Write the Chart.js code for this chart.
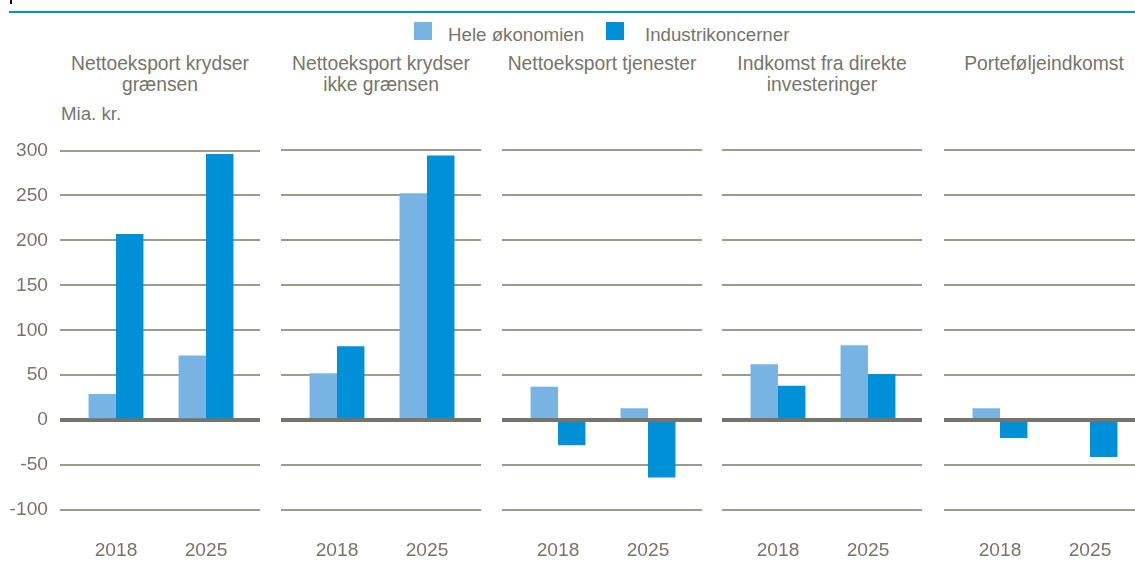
<!DOCTYPE html>
<html>
<head>
<meta charset="utf-8">
<script src="https://cdn.jsdelivr.net/npm/chart.js@4.4.1/dist/chart.umd.min.js"></script>
<style>
  body { margin: 0; width: 1135px; height: 568px; overflow: hidden; background: #fff; position: relative;
         font-family: 'Liberation Sans', Arial, sans-serif; color: #76756a; }
  .abs { position: absolute; }
  canvas { position: absolute; }
  .title { position: absolute; width: 200px; text-align: center; font-size: 19.3px; line-height: 21px; }
  .lbl { position: absolute; font-size: 18.7px; line-height: 21px; white-space: nowrap; }
  .sq { position: absolute; width: 18px; height: 18px; }
</style>
</head>
<body>
<div class="abs" style="left:10px;top:0;width:2px;height:4px;background:#111;"></div>
<div class="abs" style="left:9px;top:11px;width:1126px;height:2px;background:#0090d7;"></div>

<div id="legend"></div>
<div id="titles"></div>
<div class="lbl" style="left:61px;top:103px;">Mia. kr.</div>

<canvas id="p0" width="260" height="441" style="left:0;top:127px;"></canvas>
<canvas id="p1" width="200" height="438" style="left:281px;top:130px;"></canvas>
<canvas id="p2" width="200" height="438" style="left:502px;top:130px;"></canvas>
<canvas id="p3" width="200" height="438" style="left:722px;top:130px;"></canvas>
<canvas id="p4" width="200" height="438" style="left:944px;top:130px;"></canvas>

<script>
// Data (Mia. kr.)
const years = ['2018', '2025'];
const seriesNames = ['Hele økonomien', 'Industrikoncerner'];
const panelTitles = [
  ['Nettoeksport krydser', 'grænsen'],
  ['Nettoeksport krydser', 'ikke grænsen'],
  ['Nettoeksport tjenester'],
  ['Indkomst fra direkte', 'investeringer'],
  ['Porteføljeindkomst']
];
// one [2018, 2025] pair per panel
const heleOkonomien = [[29, 72], [52, 252], [37, 13], [62, 83], [13, 0]];
const industrikoncerner = [[207, 296], [82, 294], [-28, -64], [38, 51], [-20, -41]];
const yMin = -100, yMax = 300, yStep = 50;

const colors = ['#78b4e3', '#0090d7'];
const textColor = '#76756a';
const font = { family: "'Liberation Sans', Arial, sans-serif", size: 19.2 };

// legend + panel titles as plain text
const legend = document.getElementById('legend');
legend.innerHTML =
  '<div class="sq" style="left:414px;top:22px;background:' + colors[0] + '"></div>' +
  '<div class="lbl" style="left:448px;top:24px;">' + seriesNames[0] + '</div>' +
  '<div class="sq" style="left:606px;top:22px;background:' + colors[1] + '"></div>' +
  '<div class="lbl" style="left:645px;top:24px;">' + seriesNames[1] + '</div>';

const panelLefts = [60, 281, 502, 722, 944];
const titles = document.getElementById('titles');
panelTitles.forEach((t, i) => {
  const d = document.createElement('div');
  d.className = 'title';
  d.style.left = panelLefts[i] + 'px';
  d.style.top = '53px';
  d.innerHTML = t.join('<br>');
  titles.appendChild(d);
});

function makePanel(idx) {
  const showY = idx === 0;
  const toPoints = arr => arr.map((v, j) => ({ x: j, y: v }));
  new Chart(document.getElementById('p' + idx), {
    type: 'bar',
    data: {
      datasets: [
        { label: seriesNames[0], data: toPoints(heleOkonomien[idx]), backgroundColor: colors[0] },
        { label: seriesNames[1], data: toPoints(industrikoncerner[idx]), backgroundColor: colors[1] }
      ]
    },
    options: {
      responsive: false,
      devicePixelRatio: 1,
      animation: false,
      layout: { padding: { top: 20, left: 0, right: 0, bottom: 0 } },
      datasets: { bar: { barPercentage: 1, categoryPercentage: 0.61, borderWidth: 0 } },
      plugins: { legend: { display: false }, tooltip: { enabled: false } },
      scales: {
        x: {
          type: 'linear',
          offset: false,
          min: -0.622,
          max: 1.6,
          grid: { display: false, drawTicks: false, offset: false },
          border: { display: false },
          afterBuildTicks: s => { s.ticks = years.map((y, j) => ({ value: j })); },
          afterFit: s => { s.height = 58; },
          ticks: {
            color: textColor,
            font: font,
            padding: 29,
            maxRotation: 0,
            callback: v => years[v]
          }
        },
        y: {
          min: yMin,
          max: yMax,
          border: { display: false },
          afterFit: s => { s.width = showY ? 60 : 0; },
          grid: {
            drawTicks: false,
            color: c => c.tick && c.tick.value === 0 ? '#75746a' : '#9d9b90',
            lineWidth: c => c.tick && c.tick.value === 0 ? 4 : 2
          },
          ticks: {
            display: showY,
            stepSize: yStep,
            color: textColor,
            font: font,
            padding: 12
          }
        }
      }
    }
  });
}

for (let i = 0; i < panelTitles.length; i++) makePanel(i);
</script>
</body>
</html>
